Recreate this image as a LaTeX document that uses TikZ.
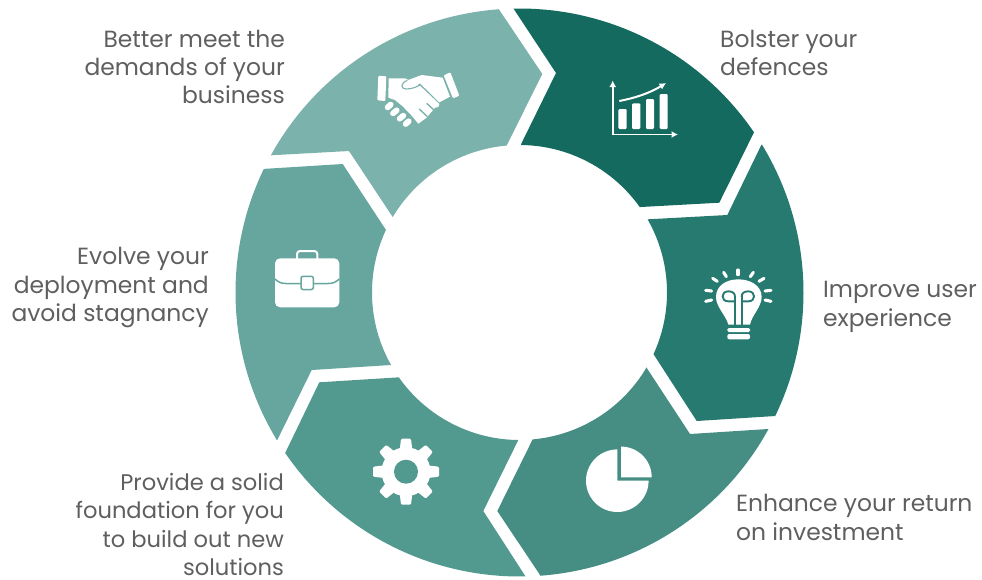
\documentclass[tikz,border=0pt]{standalone}
\usepackage{fontspec}
\usetikzlibrary{arrows.meta}
\setmainfont{Poppins}
\definecolor{segA}{HTML}{146A5E}
\definecolor{segB}{HTML}{277A6F}
\definecolor{segC}{HTML}{468E84}
\definecolor{segD}{HTML}{52998F}
\definecolor{segE}{HTML}{66A69E}
\definecolor{segF}{HTML}{7CB2AC}
\definecolor{labelgray}{HTML}{5F5F5F}
\newcommand\ringarc[3]{-- plot[domain=#2:#3,samples=70] ({519.5+#1*cos(\x)},{292.5+#1*sin(\x)})}
\newcommand\piearc[5]{-- plot[domain=#4:#5,samples=50] ({#1+#3*cos(\x)},{#2+#3*sin(\x)})}
\newcommand\fingerblob[4]{\draw[segF,line width=7pt,line cap=round] (#1,#2) -- (#3,#4);\draw[white,line width=5.8pt,line cap=round] (#1,#2) -- (#3,#4);}
\tikzset{
  lbl/.style={font=\fontsize{23.4}{28.3}\selectfont,text=labelgray,inner sep=0pt},
  lblsmall/.style={font=\fontsize{22.6}{28.3}\selectfont,text=labelgray,inner sep=0pt},
  lblR/.style={lbl,anchor=east,align=right},
  lblRs/.style={lblsmall,anchor=east,align=right},
  lblL/.style={lbl,anchor=west,align=left},
  ico/.style={draw=white,line width=1.7pt},
  ray/.style={draw=white,line width=3.1pt,line cap=round}
}
\begin{document}
\begin{tikzpicture}[x=1pt,y=-1pt]
\useasboundingbox (0,0) rectangle (982,579);
% ring segments
\fill[segA] (513.3,8.3) -- (556,73) -- (521,144.3) \ringarc{147.5}{-89.4}{-35.4} -- (719.3,202.7) -- (754,132.3) \ringarc{284}{-34.34}{-91.25} -- cycle;
\fill[segB] (761.3,145) -- (727.3,215) -- (648,219.3) \ringarc{147.5}{-29.7}{24.7} -- (696.7,421) -- (775.3,416) \ringarc{284}{25.8}{-31.4} -- cycle;
\fill[segC] (768,429) -- (690,434) -- (646.3,367.3) \ringarc{147.5}{30.5}{84.9} -- (497.3,511) -- (540.7,576) \ringarc{284}{85.7}{28.8} -- cycle;
\fill[segD] (518.3,440) -- (483.3,511) -- (525.7,576.7) \ringarc{284}{88.75}{145.6} -- (319.3,382.3) -- (399.3,377.3) \ringarc{147.5}{144.8}{90.5} -- cycle;
\fill[segE] (391,365) -- (311.7,370) -- (277.3,440) \ringarc{284}{148.7}{205.8} -- (342.7,164) -- (386,230) \ringarc{147.5}{205.1}{150.6} -- cycle;
\fill[segF] (271,155.3) -- (349,151) -- (392.7,217) \ringarc{147.5}{210.8}{265} -- (542.3,74) -- (498.7,9) \ringarc{284}{265.8}{208.9} -- cycle;
% chart icon
\draw[ico,-{Latex[length=6.5pt,width=7pt]}] (612.7,135) -- (612.7,80.5);
\draw[ico,-{Latex[length=6.5pt,width=7pt]}] (612,134.5) -- (678,134.5);
\fill[white,rounded corners=1.2pt] (618.3,109) rectangle (626.7,129);
\fill[white,rounded corners=1.2pt] (632,103.3) rectangle (640.3,129);
\fill[white,rounded corners=1.2pt] (646,99) rectangle (654,129);
\fill[white,rounded corners=1.2pt] (659.7,94) rectangle (667.7,129);
\draw[ico,line width=2pt,-{Latex[length=6.5pt,width=7pt]}] (619.3,101) .. controls (635,98) and (650,93) .. (666,83);
% bulb icon
\begin{scope}[shift={(700,262)},x=0.3333pt,y=-0.3333pt]
\fill[white] (85,188) .. controls (78,160) and (48,135) .. (48,105) .. controls (48,70) and (80,52) .. (115,52) .. controls (150,52) and (185,70) .. (185,105) .. controls (185,135) and (155,160) .. (150,188) -- cycle;
\fill[white,rounded corners=1.5pt] (82,198) rectangle (150,210);
\fill[white,rounded corners=2pt] (82,216) rectangle (150,232);
\draw[ray] (114,24) -- (114,38);
\draw[ray] (71,31) -- (79,44);
\draw[ray] (38,49) -- (52,58);
\draw[ray] (17,85) -- (35,87);
\draw[ray] (17,118) -- (35,114);
\draw[ray] (160,31) -- (151,44);
\draw[ray] (192,49) -- (177,58);
\draw[ray] (213,85) -- (195,87);
\draw[ray] (213,118) -- (195,114);
\draw[segB,line width=1.9pt] (105,190) -- (105,103) (125,190) -- (125,103);
\draw[segB,line width=1.9pt] (105,118) -- (85,118) .. controls (62,118) and (62,88) .. (85,88) .. controls (100,88) and (105,95) .. (105,105);
\draw[segB,line width=1.9pt] (125,118) -- (145,118) .. controls (168,118) and (168,88) .. (145,88) .. controls (130,88) and (125,95) .. (125,105);
\end{scope}
% pie icon
\fill[white] (617.3,480.7) -- (617.3,449.4) \piearc{617.3}{480.7}{31.3}{-90}{-360} -- cycle;
\fill[white] (621,477.3) -- (621,446.6) \piearc{621}{477.3}{30.7}{-90}{0} -- cycle;
% gear icon
\begin{scope}[shift={(406,471.7)}]
\fill[white] (0,0) circle[radius=24.5];
\foreach \a in {0,45,...,315}{
  \fill[white,rounded corners=1.2pt,rotate=\a] (-6.5,-20) -- (-5,-33) -- (5,-33) -- (6.5,-20) -- cycle;
}
\fill[segD] (0,0) circle[radius=12];
\end{scope}
% briefcase icon
\draw[white,line width=2pt,rounded corners=3pt] (297,259) -- (297,251) -- (317.3,251) -- (317.3,259);
\fill[white,rounded corners=5pt] (275,258.3) rectangle (339.3,307.3);
\draw[segE,line width=1.5pt] (275,279) .. controls (278,282) and (281,283.5) .. (286,283.5) -- (328,283.5) .. controls (333,283.5) and (336,282) .. (339.3,279);
\fill[white,draw=segE,line width=1.5pt,rounded corners=2pt] (301,276.3) rectangle (313.3,289.5);
% handshake icon
\begin{scope}[shift={(370,65)},x=0.3333pt,y=-0.3333pt]
\fill[white,rounded corners=1pt] (25,32) -- (49,34) -- (46,108) -- (22,106) -- cycle;
\fill[white,rounded corners=1pt] (221,31) -- (241,22) -- (268,92) -- (249,100) -- cycle;
\fill[white] (56,40) -- (105,40) -- (150,62) -- (208,117) .. controls (210,122) and (205,128) .. (195,128) -- (190,134) -- (170,158) -- (145,176) -- (125,152) -- (98,124) -- (75,105) -- (55,98) -- cycle;
\fingerblob{53}{127}{62}{119}
\fingerblob{69}{145}{80}{136}
\fingerblob{89}{161}{100}{152}
\fingerblob{107}{177}{116}{169}
\fill[white] (218,38) -- (155,30) -- (112,46) .. controls (95,55) and (95,68) .. (108,68) .. controls (125,68) and (140,62) .. (150,55) -- (208,112) -- (240,95) -- cycle;
\draw[segF,line width=1.1pt] (112,46) .. controls (90,55) and (92,72) .. (108,72) .. controls (125,72) and (140,66) .. (150,60);
\draw[segF,line width=1.4pt] (170,115) -- (193,136);
\draw[segF,line width=1.4pt] (148,132) -- (172,155);
\end{scope}
% labels
\node[lblR] (lblbetter) at (285,67) {Better meet the\\demands of your\\business};
\node[lblL] (lblbolster) at (720,53) {Bolster your\\defences};
\node[lblL] (lblimprove) at (823,307) {Improve user\\experience};
\node[lblL] (lblenhance) at (736,517.5) {Enhance your return\\on investment};
\node[lblRs] (lblprovide) at (284,524.5) {Provide a solid\\foundation for you\\to build out new\\solutions};
\node[lblR] (lblevolve) at (209,287.5) {Evolve your\\deployment and\\avoid stagnancy};
\end{tikzpicture}
\end{document}
